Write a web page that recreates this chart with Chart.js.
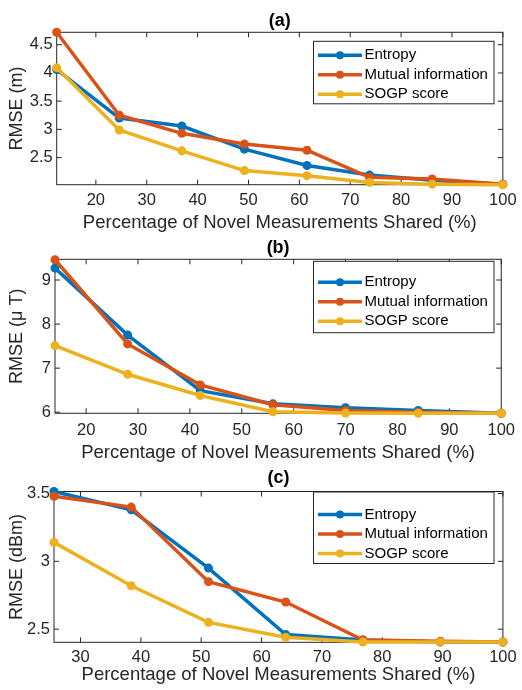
<!DOCTYPE html>
<html>
<head>
<meta charset="utf-8">
<script src="https://cdn.jsdelivr.net/npm/chart.js@4.4.0/dist/chart.umd.min.js"></script>
<style>
html, body { margin: 0; padding: 0; background: #fff; }
body { width: 522px; height: 690px; position: relative; overflow: hidden; }
canvas { position: absolute; left: 0; }
</style>
</head>
<body>
<canvas id="ca"></canvas>
<canvas id="cb"></canvas>
<canvas id="cc"></canvas>
<script>
const seriesNames = ["Entropy", "Mutual information", "SOGP score"];
const seriesColors = ["#0072BD", "#D95319", "#EDB120"];
const xTitle = "Percentage of Novel Measurements Shared (%)";

// (a)
const xA = [12.3, 24.6, 36.9, 49.2, 61.5, 73.8, 86.1, 100];
const entropyA = [4.06, 3.20, 3.06, 2.65, 2.36, 2.19, 2.10, 2.03];
const mutualA = [4.72, 3.25, 2.93, 2.74, 2.63, 2.15, 2.12, 2.03];
const sogpA = [4.09, 2.99, 2.62, 2.27, 2.18, 2.06, 2.03, 2.02];
const xTicksA = [20, 30, 40, 50, 60, 70, 80, 90, 100];
const yTicksA = [2.5, 3, 3.5, 4, 4.5];

// (b)
const xB = [14, 28, 42, 56, 70, 84, 100];
const entropyB = [9.27, 7.75, 6.49, 6.19, 6.10, 6.04, 5.975];
const mutualB = [9.46, 7.55, 6.62, 6.17, 6.04, 6.00, 5.975];
const sogpB = [7.51, 6.86, 6.38, 6.01, 5.98, 5.975, 5.975];
const xTicksB = [20, 30, 40, 50, 60, 70, 80, 90, 100];
const yTicksB = [6, 7, 8, 9];

// (c)
const xC = [25.6, 38.4, 51.2, 64, 76.8, 89.6, 100];
const entropyC = [3.515, 3.38, 2.95, 2.46, 2.42, 2.405, 2.405];
const mutualC = [3.48, 3.40, 2.85, 2.70, 2.42, 2.41, 2.405];
const sogpC = [3.14, 2.82, 2.55, 2.44, 2.405, 2.405, 2.405];
const xTicksC = [30, 40, 50, 60, 70, 80, 90, 100];
const yTicksC = [2.5, 3, 3.5];

Chart.defaults.font.family = "'Liberation Sans', Arial, sans-serif";
Chart.defaults.color = "#262626";

const panels = [
  { id: "ca", title: "(a)", yTitle: "RMSE (m)", x: xA, ys: [entropyA, mutualA, sogpA],
    xTicks: xTicksA, yTicks: yTicksA, xMin: 12.3, yMin: 2.02, yMax: 4.72,
    top: 0, h: 236, left: 56.7, areaTop: 32.3, areaBottom: 184.7, tickGap: 5.4,
    xTitleY: 222.7, titleY: 21.5, legTop: 9, legBottom: 71.5 },
  { id: "cb", title: "(b)", yTitle: "RMSE (\u03BC T)", x: xB, ys: [entropyB, mutualB, sogpB],
    xTicks: xTicksB, yTicks: yTicksB, xMin: 14, yMin: 5.975, yMax: 9.47,
    top: 232, h: 234, left: 55, areaTop: 259.3, areaBottom: 413.3, tickGap: 7,
    xTitleY: 452.8, titleY: 248, legTop: 2, legBottom: 73.4 },
  { id: "cc", title: "(c)", yTitle: "RMSE (dBm)", x: xC, ys: [entropyC, mutualC, sogpC],
    xTicks: xTicksC, yTicks: yTicksC, xMin: 25.6, yMin: 2.403, yMax: 3.515,
    top: 462, h: 228, left: 54, areaTop: 491.5, areaBottom: 642.3, tickGap: 5.3,
    xTitleY: 674.7, titleY: 478, legTop: 0.5, legBottom: 72 }
];

const frame = {
  id: "frame",
  beforeDatasetsDraw(chart) {
    const { ctx, chartArea: a, scales: { x, y } } = chart;
    ctx.save();
    ctx.strokeStyle = "#262626";
    ctx.lineWidth = 1;
    ctx.strokeRect(a.left, a.top, a.right - a.left, a.bottom - a.top);
    ctx.beginPath();
    x.ticks.forEach(t => {
      const px = x.getPixelForValue(t.value);
      ctx.moveTo(px, a.bottom); ctx.lineTo(px, a.bottom - 5);
      ctx.moveTo(px, a.top); ctx.lineTo(px, a.top + 5);
    });
    y.ticks.forEach(t => {
      const py = y.getPixelForValue(t.value);
      ctx.moveTo(a.left, py); ctx.lineTo(a.left + 5, py);
      ctx.moveTo(a.right, py); ctx.lineTo(a.right - 5, py);
    });
    ctx.stroke();
    ctx.restore();
  },
  afterDraw(chart, args, opts) {
    const { ctx, chartArea: a } = chart;
    ctx.save();
    // title
    ctx.fillStyle = "#000";
    ctx.font = "bold 18px 'Liberation Sans', Arial, sans-serif";
    ctx.textAlign = "center";
    ctx.textBaseline = "middle";
    ctx.fillText(opts.title, (a.left + a.right) / 2, opts.titleY);
    // legend
    const lx0 = 313.5, lx1 = 494;
    const ly0 = a.top + opts.legTop, ly1 = a.top + opts.legBottom;
    ctx.fillStyle = "#fff";
    ctx.fillRect(lx0, ly0, lx1 - lx0, ly1 - ly0);
    ctx.strokeStyle = "#262626";
    ctx.lineWidth = 1;
    ctx.strokeRect(lx0, ly0, lx1 - lx0, ly1 - ly0);
    const rows = [23, 42.5, 62];
    chart.data.datasets.forEach((ds, i) => {
      const ry = a.top + rows[i];
      ctx.strokeStyle = ds.borderColor;
      ctx.lineWidth = 3.5;
      ctx.beginPath();
      ctx.moveTo(318, ry); ctx.lineTo(362, ry);
      ctx.stroke();
      ctx.fillStyle = ds.borderColor;
      ctx.beginPath();
      ctx.arc(340, ry, 4, 0, Math.PI * 2);
      ctx.fill();
      ctx.fillStyle = "#000";
      ctx.font = "15px 'Liberation Sans', Arial, sans-serif";
      ctx.textAlign = "left";
      ctx.fillText(ds.label, 364.5, ry);
    });
    ctx.restore();
  }
};

panels.forEach(p => {
  const cv = document.getElementById(p.id);
  cv.width = 522;
  cv.height = p.h;
  cv.style.top = p.top + "px";
  const datasets = p.ys.map((vals, i) => ({
    label: seriesNames[i],
    data: vals.map((v, k) => ({ x: p.x[k], y: v })),
    borderColor: seriesColors[i],
    backgroundColor: seriesColors[i],
    pointBackgroundColor: seriesColors[i],
    pointBorderWidth: 0,
    pointRadius: 4.5,
    borderWidth: 3.5,
    tension: 0,
    clip: false,
    order: 3 - i
  }));
  new Chart(cv, {
    type: "line",
    data: { datasets },
    options: {
      responsive: false,
      animation: false,
      layout: { padding: { top: p.areaTop - p.top, right: 14.5, left: 0, bottom: 0 } },
      plugins: {
        legend: { display: false },
        tooltip: { enabled: false },
        frame: { title: p.title, titleY: p.titleY - p.top, legTop: p.legTop, legBottom: p.legBottom }
      },
      scales: {
        x: {
          type: "linear",
          min: p.xMin,
          max: 100,
          grid: { display: false, drawTicks: false },
          border: { display: false },
          afterBuildTicks: s => { s.ticks = p.xTicks.map(v => ({ value: v })); },
          afterFit: s => { s.height = p.h - (p.areaBottom - p.top); },
          ticks: {
            autoSkip: false, maxRotation: 0, padding: p.tickGap,
            font: { size: 16.5, lineHeight: 1.2 }, color: "#262626",
            callback: v => String(v)
          },
          title: {
            display: true, text: xTitle, color: "#262626",
            font: { size: 18.5, lineHeight: 1.2 },
            padding: { top: 0, bottom: (p.top + p.h) - p.xTitleY - 11.1 }
          }
        },
        y: {
          type: "linear",
          min: p.yMin,
          max: p.yMax,
          grid: { display: false, drawTicks: false },
          border: { display: false },
          afterBuildTicks: s => { s.ticks = p.yTicks.map(v => ({ value: v })); },
          afterFit: s => { s.width = p.left; },
          ticks: {
            padding: 4,
            font: { size: 16.5, lineHeight: 1.2 }, color: "#262626",
            callback: v => String(v)
          },
          title: {
            display: true, text: p.yTitle, color: "#262626",
            font: { size: 18, lineHeight: 1.2 },
            padding: { top: 6, bottom: 0 }
          }
        }
      }
    },
    plugins: [frame]
  });
});
</script>
</body>
</html>
